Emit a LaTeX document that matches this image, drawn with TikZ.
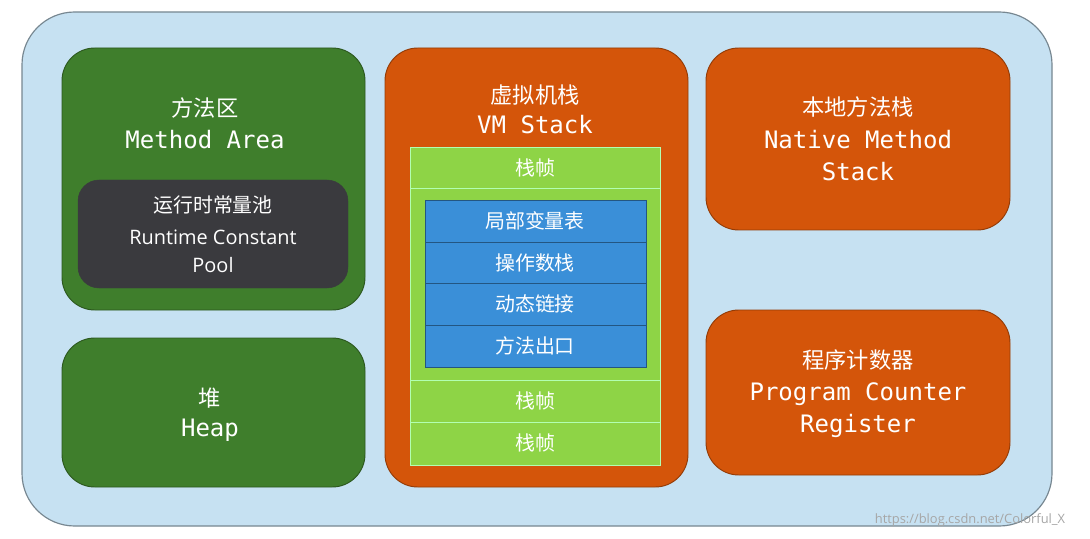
\documentclass[tikz,border=0pt]{standalone}
\usepackage{fontspec}
\setmainfont{Noto Sans CJK SC}
\newfontfamily\cjk{Noto Sans CJK SC}
\newfontfamily\mono{DejaVu Sans Mono}
\newfontfamily\sans{Open Sans}
\begin{document}
\begin{tikzpicture}[x=0.03cm,y=-0.03cm,
  box/.style={rounded corners=28, draw=#1!70!black, line width=0.8pt, fill=#1},
  cn/.style={text=white, font=\cjk\fontsize{19}{22}\selectfont},
  mn/.style={text=white, font=\mono\fontsize{20.5}{22}\selectfont},
  sn/.style={text=white, font=\sans\fontsize{17}{20}\selectfont},
  row/.style={draw=white!70!green, line width=0.8pt}]
\definecolor{bg}{HTML}{C6E1F2}
\definecolor{dg}{HTML}{3F7E2C}
\definecolor{og}{HTML}{D4550A}
\definecolor{lg}{HTML}{8ED446}
\definecolor{bl}{HTML}{3A8FD8}
\definecolor{gy}{HTML}{3A3A3E}
\useasboundingbox (0,0) rectangle (1090,539);
\fill[white] (0,0) rectangle (1090,539);
\draw[rounded corners=45, fill=bg, draw=bg!60!black, line width=1pt] (22,12) rectangle (1052,526);
% method area
\draw[box=dg] (62,48) rectangle (365,310);
\node[cn] (ma1) at (205,108) {方法区};
\node[mn] (ma2) at (205,140) {Method Area};
\draw[rounded corners=18, fill=gy, draw=gy] (78,180) rectangle (348,288);
\node[cn,font=\cjk\fontsize{17}{20}\selectfont] (rc1) at (213,205) {运行时常量池};
\node[sn] (rc2) at (213,237) {Runtime Constant};
\node[sn] (rc3) at (213,265) {Pool};
% heap
\draw[box=dg] (62,338) rectangle (365,487);
\node[cn] (h1) at (210,398) {堆};
\node[mn] (h2) at (210,430) {Heap};
% VM stack
\draw[box=og] (385,48) rectangle (688,487);
\node[cn] (vm1) at (535,95) {虚拟机栈};
\node[mn] (vm2) at (535,125) {VM Stack};
\fill[lg] (410,147) rectangle (660,465);
\draw[row] (410,147) rectangle (660,188);
\draw[row] (410,188) rectangle (660,380);
\draw[row] (410,380) rectangle (660,422);
\draw[row] (410,422) rectangle (660,465);
\node[cn,font=\cjk\fontsize{17}{20}\selectfont] (f1) at (535,168) {栈帧};
\node[cn,font=\cjk\fontsize{17}{20}\selectfont] (f2) at (535,401) {栈帧};
\node[cn,font=\cjk\fontsize{17}{20}\selectfont] (f3) at (535,443) {栈帧};
\foreach \a/\b/\t [count=\i] in {200/242/局部变量表,242/283/操作数栈,283/325/动态链接,325/367/方法出口}{
  \draw[fill=bl, draw=bl!60!black] (425,\a) rectangle (646,\b);
  \node[cn,font=\cjk\fontsize{17}{20}\selectfont] (b\i) at (535,{(\a+\b)/2}) {\t};
}
% native
\draw[box=og] (706,48) rectangle (1010,230);
\node[cn] (n1) at (858,107) {本地方法栈};
\node[mn] (n2) at (858,140) {Native Method};
\node[mn] (n3) at (858,172) {Stack};
% PC
\draw[box=og] (706,310) rectangle (1010,475);
\node[cn] (p1) at (858,360) {程序计数器};
\node[mn] (p2) at (858,394) {Program Counter};
\node[mn] (p3) at (858,426) {Register};
\node[text=gray!70, font=\sans\fontsize{11}{13}\selectfont] (wm) at (970,520) {https://blog.csdn.net/Colorful\_X};
\end{tikzpicture}
\end{document}
